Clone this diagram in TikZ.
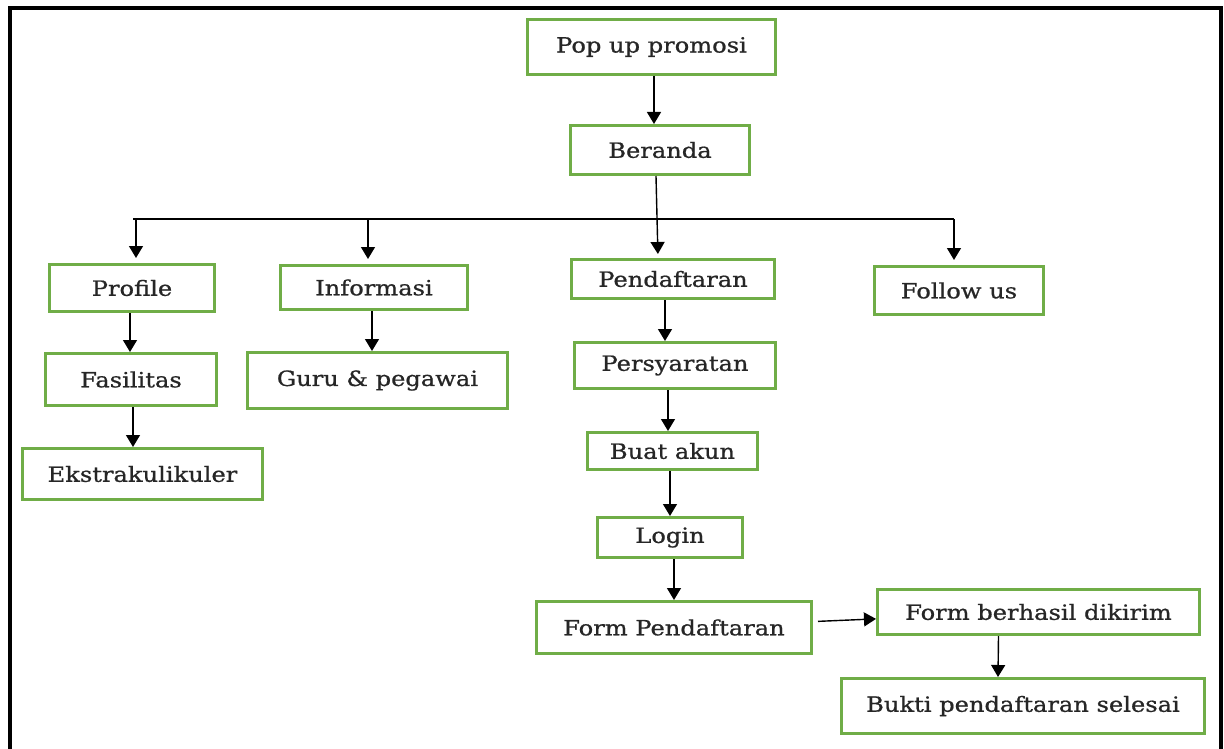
\documentclass[tikz,border=0pt]{standalone}
\usepackage{fontspec}
\setmainfont{DejaVu Serif}[FakeStretch=1.15, FakeBold=0.8]
\usepackage{xcolor}
\usepackage{tikz}
\usetikzlibrary{arrows.meta}
\definecolor{boxgreen}{HTML}{70AD47}

\begin{document}
\begin{tikzpicture}[x=1pt, y=-1pt,
  textbox/.style={font=\fontsize{21}{24}\selectfont, text=black!85, draw=boxgreen, line width=3pt, inner sep=0pt, align=center},
  link/.style={line width=1.4pt, -{Triangle[width=14pt,length=12pt]}}]
\useasboundingbox (0,0) rectangle (1224,749);
%frame
\draw[line width=3.5pt] (10,760) -- (10,8) -- (1221,8) -- (1221,760);
\node[textbox, minimum width=248, minimum height=55] (pop) at (651.5,47) {Pop up promosi};
\node[textbox, minimum width=179, minimum height=49] (ber) at (660,150) {Beranda};
\node[textbox, minimum width=165, minimum height=47] (prof) at (132,288) {Profile};
\node[textbox, minimum width=187, minimum height=44] (info) at (374,287.5) {Informasi};
\node[textbox, minimum width=203, minimum height=39] (pend) at (673,279) {Pendaftaran};
\node[textbox, minimum width=169, minimum height=48] (follow) at (959,290.5) {Follow us};
\node[textbox, minimum width=171, minimum height=52] (fas) at (131,379.5) {Fasilitas};
\node[textbox, minimum width=260, minimum height=56] (guru) at (377.5,380.5) {Guru \& pegawai};
\node[textbox, minimum width=240, minimum height=51] (ekstra) at (142.5,474) {Ekstrakulikuler};
\node[textbox, minimum width=201, minimum height=46] (syarat) at (675,365.5) {Persyaratan};
\node[textbox, minimum width=170, minimum height=37] (akun) at (672.5,451) {Buat akun};
\node[textbox, minimum width=145, minimum height=40] (login) at (670,537.5) {Login};
\node[textbox, minimum width=275, minimum height=52] (form) at (674,627.5) {Form Pendaftaran};
\node[textbox, minimum width=322, minimum height=45] (kirim) at (1038.5,612) {Form berhasil dikirim};
\node[textbox, minimum width=363, minimum height=55] (bukti) at (1023,706) {Bukti pendaftaran selesai};
%menu bar
\coordinate (bl) at (133,219);
\coordinate (br) at (954,219);
\coordinate (b1) at (136,219);
\coordinate (b2) at (368,219);
\draw [line width=1.4pt] (bl) -- (br);
\draw [link, shorten >=5pt] (b1) -- (b1 |- prof.north);
\draw [link, shorten >=5pt] (b2) -- (b2 |- info.north);
\draw [link, shorten >=5pt] (br) -- (br |- follow.north);
\draw [link, shorten >=4pt] ([xshift=-4]ber.south) -- ([xshift=-15]pend.north);
\draw [link] ([xshift=2.5]pop.south) -- ([xshift=-6]ber.north);
\draw [link] ([xshift=-2]prof.south) -- ([xshift=-1]fas.north);
\draw [link] ([xshift=2]fas.south) -- ([xshift=-9.5]ekstra.north);
\draw [link] ([xshift=-2]info.south) -- ([xshift=-5.5]guru.north);
\draw [link] ([xshift=-8]pend.south) -- ([xshift=-10]syarat.north);
\draw [link] ([xshift=-7]syarat.south) -- ([xshift=-4.5]akun.north);
\draw [link] ([xshift=-2.5]akun.south) -- (login.north);
\draw [link] ([xshift=4]login.south) -- (form.north);
\draw [link, shorten <=5pt] (form) -- (kirim);
\draw [link] ([xshift=-40]kirim.south) -- ([xshift=-25]bukti.north);
\end{tikzpicture}
\end{document}
